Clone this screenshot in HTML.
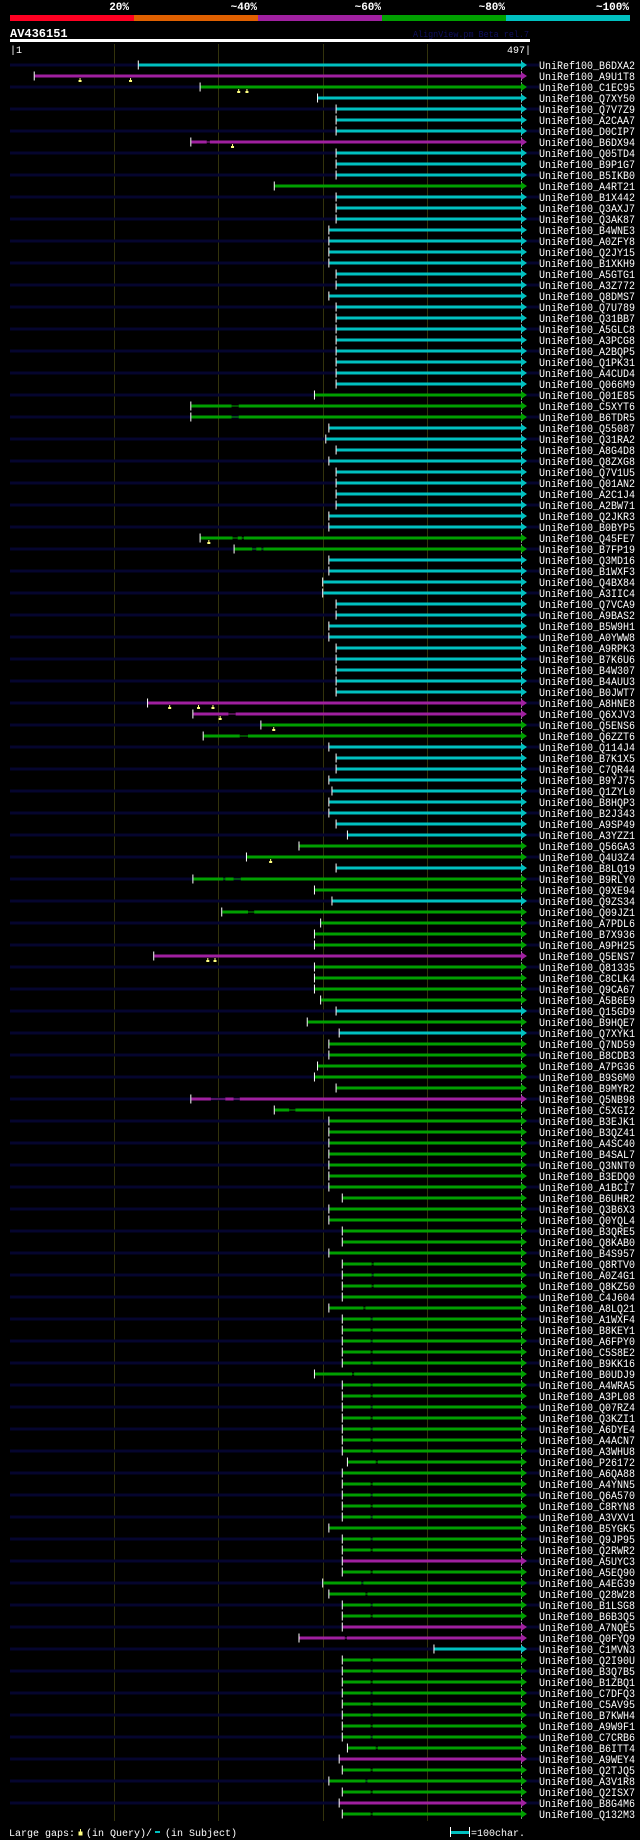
<!DOCTYPE html>
<html><head><meta charset="utf-8">
<style>
html,body{margin:0;padding:0;background:#000;width:640px;height:1840px;overflow:hidden}
svg{display:block}
text{font-family:"Liberation Mono","DejaVu Sans Mono",monospace}
</style></head>
<body>
<svg id="chart" width="640" height="1840" viewBox="0 0 640 1840" xmlns="http://www.w3.org/2000/svg">
<rect x="0" y="0" width="640" height="1840" fill="#000"/>
<g>
<rect x="10" y="15" width="124" height="6" fill="#ff0022"/>
<rect x="134" y="15" width="124" height="6" fill="#e06000"/>
<rect x="258" y="15" width="124" height="6" fill="#a020a0"/>
<rect x="382" y="15" width="124" height="6" fill="#00a000"/>
<rect x="506" y="15" width="124" height="6" fill="#00c0c0"/>
<g font-size="11" font-weight="bold" fill="#fff" text-anchor="end">
<text x="129" y="10">20%</text>
<text x="257" y="10">~40%</text>
<text x="381" y="10">~60%</text>
<text x="505" y="10">~80%</text>
<text x="629" y="10">~100%</text>
</g></g>
<text x="10" y="37" font-size="12" font-weight="bold" fill="#fff">AV436151</text>
<text x="413" y="37" font-size="9" fill="#101060" textLength="116" lengthAdjust="spacingAndGlyphs">AlignView.pm Beta rel.7</text>
<rect x="10" y="39" width="520" height="3" fill="#fff"/>
<text x="10" y="53" font-size="10" fill="#fff">|1</text>
<text x="531" y="53" font-size="10" fill="#fff" text-anchor="end">497|</text>
<g id="grid"></g>
<g id="rows"></g>
<g font-size="10" fill="#fff">
<text x="9" y="1836">Large gaps:</text>
<path d="M80.5,1829 v3 M79,1832 h3 v3 h-3 z" stroke="#ffff80" fill="#ffff80" stroke-width="1"/>
<text x="86" y="1836">(in Query)/</text>
<rect x="155" y="1831" width="5" height="2" fill="#00c0c0"/>
<text x="165" y="1836">(in Subject)</text>
<rect x="450" y="1827" width="1" height="10" fill="#fff"/>
<rect x="451" y="1831" width="18" height="3" fill="#00c0c0"/>
<rect x="469" y="1827" width="1" height="10" fill="#fff"/>
<text x="471" y="1836">=100char.</text>
</g>
</svg>
<script>
const labels = ["B6DXA2","A9U1T8","C1EC95","Q7XY50","Q7V7Z9","A2CAA7","D0CIP7","B6DX94","Q05TD4","B9P1G7","B5IKB0","A4RT21","B1X442","Q3AXJ7","Q3AK87","B4WNE3","A0ZFY8","Q2JY15","B1XKH9","A5GTG1","A3Z772","Q8DMS7","Q7U789","Q31BB7","A5GLC8","A3PCG8","A2BQP5","Q1PK31","A4CUD4","Q066M9","Q01E85","C5XYT6","B6TDR5","Q55087","Q31RA2","A8G4D8","Q8ZXG8","Q7V1U5","Q01AN2","A2C1J4","A2BW71","Q2JKR3","B0BYP5","Q45FE7","B7FP19","Q3MD16","B1WXF3","Q4BX84","A3IIC4","Q7VCA9","A9BAS2","B5W9H1","A0YWW8","A9RPK3","B7K6U6","B4W307","B4AUU3","B0JWT7","A8HNE8","Q6XJV3","Q5ENS6","Q6ZZT6","Q114J4","B7K1X5","C7QR44","B9YJ75","Q1ZYL0","B8HQP3","B2J343","A9SP49","A3YZZ1","Q56GA3","Q4U3Z4","B8LQ19","B9RLY0","Q9XE94","Q9ZS34","Q09JZ1","A7PDL6","B7X936","A9PH25","Q5ENS7","Q81335","C8CLK4","Q9CA67","A5B6E9","Q15GD9","B9HQE7","Q7XYK1","Q7ND59","B8CDB3","A7PG36","B9S6M0","B9MYR2","Q5NB98","C5XGI2","B3EJK1","B3QZ41","A4SC40","B4SAL7","Q3NNT0","B3EDQ0","A1BCI7","B6UHR2","Q3B6X3","Q0YQL4","B3QRE5","Q8KAB0","B4S957","Q8RTV0","A0Z4G1","Q8KZ50","C4J604","A8LQ21","A1WXF4","B8KEY1","A6FPY0","C5S8E2","B9KK16","B0UDJ9","A4WRA5","A3PL08","Q07RZ4","Q3KZI1","A6DYE4","A4ACN7","A3WHU8","P26172","A6QA88","A4YNN5","Q6A570","C8RYN8","A3VXV1","B5YGK5","Q9JP95","Q2RWR2","A5UYC3","A5EQ90","A4EG39","Q28W28","B1LSG8","B6B3Q5","A7NQE5","Q0FYQ9","C1MVN3","Q2I90U","B3Q7B5","B1ZBQ1","C7DFQ3","C5AV95","B7KWH4","A9W9F1","C7CRB6","B6ITT4","A9WEY4","Q2TJQ5","A3V1R8","Q2ISX7","B8G4M6","Q132M3"];
const starts = [126,25,186,300,318,318,318,177,318,318,318,258,318,318,318,311,311,311,311,318,318,311,318,318,318,318,318,
318,318,318,297,177,177,311,308,318,311,318,318,318,318,311,311,186,219,311,311,305,305,318,318,311,311,318,
318,318,318,318,135,179,245,189,311,318,318,311,314,311,311,318,329,282,231,318,179,297,314,207,303,297,
297,141,297,297,297,303,318,290,321,311,311,300,297,318,177,258,311,311,311,311,311,311,311,324,311,311,324,
324,311,324,324,324,324,311,324,324,324,324,324,297,324,324,324,324,324,324,324,329,324,324,324,324,324,311,
324,324,324,324,305,311,324,324,324,282,413,324,324,324,324,324,324,324,324,329,321,324,311,324,321,324];
const colorCodes =
  "cmgccccmcccg" +             // rows 1-12
  "cccccccccccccccccc" +       // 13-30
  "ggg" +                      // 31-33
  "cccccccccc" +               // 34-43
  "gg" +                       // 44-45
  "ccccccccccccc" +            // 46-58
  "mm" + "gg" +                // 59-62
  "ccccccccc" +                // 63-71
  "gg" + "c" + "gg" + "c" +    // 72-77
  "gggg" + "m" + "gggg" +      // 78-86
  "c" + "g" + "c" + "ggggg" +  // 87-94
  "m" +                        // 95
  "ggggggggggggggggggggggggggggggggggggggggg" + // 96-136 (41)
  "m" + "ggggg" + "mm" + "c" + // 137-145
  "ggggggggg" +                // 146-154
  "m" + "ggg" + "m" + "g";     // 155-160
const gapRows = [8,32,33,44,44,45,45,60,62,75,75,78,95,95,96,110,111,112,114,115,116,117,118,119,120,121,122,123,124,125,126,127,128,130,131,132,133,135,136,138,139,140,141,142,144,146,147,148,149,150,151,152,153,154,156,157,158,160];
const gapFrom = [192,216,216,217,226,236,245,213,224,208,218,232,196,218,272,352,352,352,344,351,351,351,351,351,333,351,351,351,351,351,351,351,356,351,351,351,351,351,351,351,342,346,351,351,326,351,351,351,351,351,351,351,351,356,351,346,351,351];
const gapTo = [195,223,223,222,228,240,247,220,232,210,225,238,210,224,278,354,354,354,346,353,353,353,353,353,335,353,353,353,353,353,353,353,358,353,353,353,353,353,353,353,344,348,353,353,328,353,353,353,353,353,353,353,353,358,353,348,353,353];
const markRows = [2,2,3,3,8,44,59,59,59,60,61,73,82,82];
const markPos = [69,118,223,231,217,194,156,184,198,205,257,254,193,200];
const gridTicks = [100,200,300,400];
const queryLen = 497;

const NS = "http://www.w3.org/2000/svg";
const COLORS = {c:"#00c0c0", m:"#a020a0", g:"#00a000"};
const X0 = 10, X1 = 521;
function xScale(p){ return X0 + (p-1)/(queryLen-1)*(X1-X0); }
function yRow(i){ return 65 + i*11; }
function mk(tag, attrs, parent){
  const el = document.createElementNS(NS, tag);
  for (const k in attrs) el.setAttribute(k, attrs[k]);
  parent.appendChild(el);
  return el;
}
const grid = document.getElementById("grid");
const rowsG = document.getElementById("rows");
const gridX = [114,218,323,427];
gridTicks.forEach((t,k)=>{
  const gl = mk("rect",{x:gridX[k],y:44,width:1,height:1777,fill:"#33330c"},grid);
  
  
});
labels.forEach((lab,i)=>{
  const y = yRow(i);
  const g = mk("g",{},rowsG);
  
  
  if (i % 2 === 0) {
    const bg = mk("rect",{x:10,y:y-1.5,width:529,height:3,fill:"#05052e"},g);
    
    
  }
  const col = COLORS[colorCodes[i]] || "#00a000";
  const sx = xScale(starts[i]);
  const ex = xScale(queryLen);
  const gaps = [];
  gapRows.forEach((r,k)=>{ if (r === i+1) gaps.push([xScale(gapFrom[k]), xScale(gapTo[k])]); });
  gaps.sort((a,b)=>a[0]-b[0]);
  let cur = sx;
  const segs = [];
  gaps.forEach(gp=>{ segs.push([cur, gp[0]]); cur = gp[1]; });
  segs.push([cur, ex]);
  gaps.forEach(gp=>{
    const gl = mk("rect",{x:gp[0],y:y-0.5,width:gp[1]-gp[0],height:1,fill:col},g);
    
    
  });
  segs.forEach(s=>{
    const b = mk("rect",{x:s[0],y:y-1.5,width:Math.max(0,s[1]-s[0]),height:3,fill:col},g);
    
    
  });
  const tick = mk("rect",{x:sx-1,y:y-4.5,width:1,height:9,fill:"#fff"},g);
  
  
  const et = mk("rect",{x:ex,y:y-4.5,width:1,height:9,fill:"#fff"},g);
  
  
  const ar = mk("path",{d:`M${ex},${y-4} L${ex+6},${y} L${ex},${y+4} Z`,fill:col},g);
  
  
  markRows.forEach((r,k)=>{
    if (r === i+1) {
      const mx = xScale(markPos[k]);
      const m = mk("path",{d:`M${mx-0.5},${y+2} h1 v2 h1 v2 h-3 v-2 h1 z`,fill:"#ffff80"},g);
      
      
    }
  });
  const t = mk("text",{x:539,y:y+4,"font-size":11,fill:"#fff",textLength:96,lengthAdjust:"spacingAndGlyphs"},g);
  t.textContent = "UniRef100_" + lab;
  
  
});
</script>
</body></html>
